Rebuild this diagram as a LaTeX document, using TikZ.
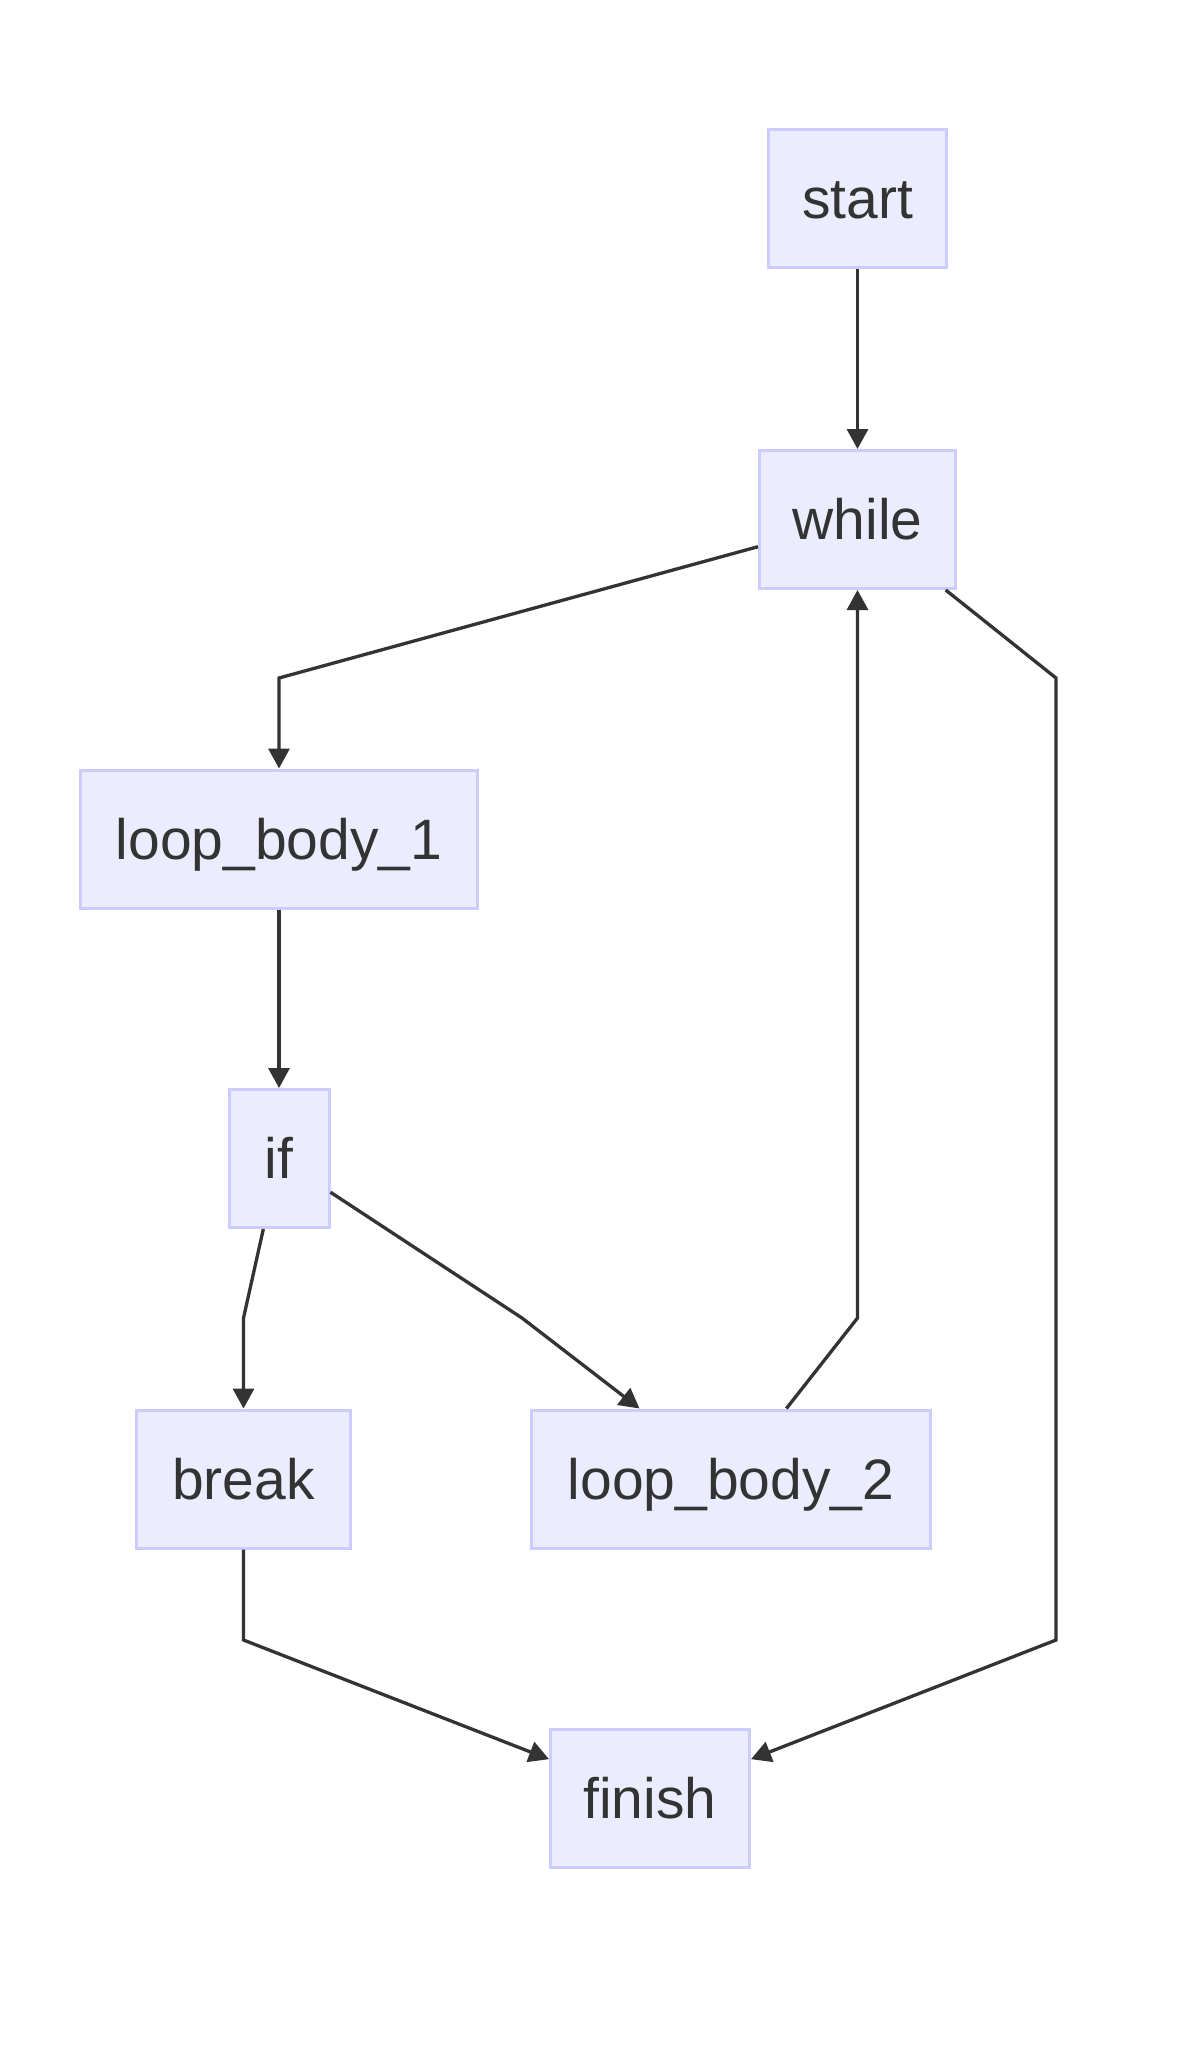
\documentclass[tikz,border=0pt]{standalone}
\usepackage{fontspec}
\setmainfont{Liberation Sans}
\usetikzlibrary{arrows.meta}
\definecolor{boxfill}{HTML}{ECECFF}
\definecolor{boxline}{HTML}{CCCCFF}
\definecolor{edgec}{HTML}{333333}
\definecolor{textc}{HTML}{333333}
\begin{document}
\begin{tikzpicture}[x=1pt,y=-1pt,
  box/.style={draw=boxline, fill=boxfill, line width=3pt, inner sep=0pt,
    minimum height=138pt, text height=40pt, text depth=0pt,
    font=\fontsize{57}{60}\selectfont, text=textc},
  edge/.style={draw=edgec, line width=3.3pt, line join=miter,
    -{Triangle[length=20pt,width=21pt]}}]
\useasboundingbox (0,0) rectangle (1200,2070);
\fill[white] (0,0) rectangle (1200,2070);

\node[box, minimum width=178pt] (start)  at (857.5,198.5) {start};
\node[box, minimum width=196pt] (while)  at (857.5,519.5) {while};
\node[box, minimum width=397pt] (lb1)    at (279,839) {loop\_body\_1};
\node[box, minimum width=100pt] (if)     at (279,1158.5) {if};
\node[box, minimum width=214pt] (break)  at (243.5,1479) {break};
\node[box, minimum width=399pt] (lb2)    at (731,1479) {loop\_body\_2};
\node[box, minimum width=199pt] (finish) at (650,1798.5) {finish};

\coordinate (wl) at (279,678);
\coordinate (wr1) at (1056,678);
\coordinate (wr2) at (1056,1640);
\coordinate (ib) at (243.5,1318);
\coordinate (il) at (522,1318);
\coordinate (lw) at (857.5,1318);
\coordinate (bf) at (243.5,1640);

\draw[edge] (start) -- (while);
\draw[edge] (while) -- (wl) -- (lb1);
\draw[edge] (while) -- (wr1) -- (wr2) -- (finish);
\draw[edge] (lb1) -- (if);
\draw[edge] (if) -- (ib) -- (break);
\draw[edge] (if) -- (il) -- (lb2);
\draw[edge] (lb2) -- (lw) -- (lw |- while.south);
\draw[edge] (break) -- (bf) -- (finish);
\end{tikzpicture}
\end{document}
